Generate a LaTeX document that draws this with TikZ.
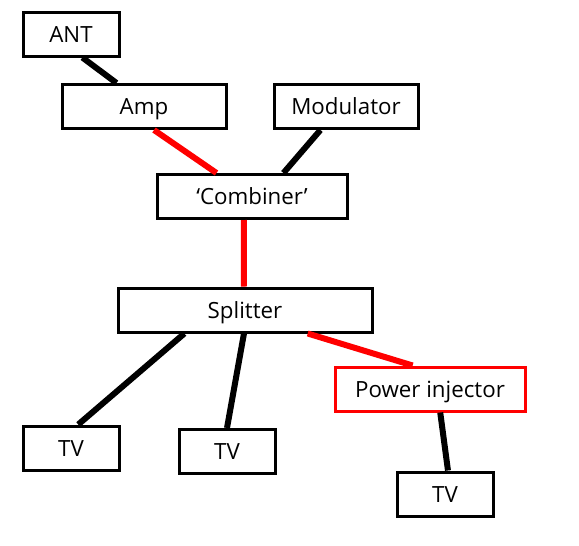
\documentclass[tikz,border=0pt]{standalone}
\usepackage{fontspec}
\setmainfont{Open Sans}
\usetikzlibrary{calc}
\begin{document}
\begin{tikzpicture}[x=1pt,y=-1pt,
  box/.style={draw=black,line width=3pt,fill=white,inner sep=0pt,text height=20pt,text depth=4pt,font=\fontsize{22.3}{26}\selectfont},
  redbox/.style={box,draw=red},
  wire/.style={line width=6pt,black},
  redwire/.style={line width=6pt,red}]
\useasboundingbox (0,0) rectangle (579,546);
% nodes
\node[box,minimum width=96pt,minimum height=44pt] (ant) at (71,34) {ANT};
\node[box,minimum width=164pt,minimum height=44pt] (amp) at (144,106.5) {Amp};
\node[box,minimum width=144pt,minimum height=44pt] (mod) at (346,106.5) {Modulator};
\node[box,minimum width=190pt,minimum height=44pt] (comb) at (252,196.5) {‘Combiner’};
\node[box,minimum width=254pt,minimum height=44pt] (split) at (245,310) {Splitter};
\node[redbox,minimum width=190pt,minimum height=44pt] (pinj) at (430,389) {Power injector};
\node[box,minimum width=96pt,minimum height=44pt] (tva) at (71,448) {TV};
\node[box,minimum width=96pt,minimum height=44pt] (tvb) at (227,451.5) {TV};
\node[box,minimum width=96pt,minimum height=44pt] (tvc) at (445,494) {TV};
% connectors
\draw[wire] ($(ant.south west)!0.615!(ant.south east)$) -- ($(amp.north west)!0.335!(amp.north east)$);
\draw[redwire] ($(amp.south west)!0.56!(amp.south east)$) -- ($(comb.north west)!0.316!(comb.north east)$);
\draw[wire] ($(mod.south west)!0.326!(mod.south east)$) -- ($(comb.north west)!0.663!(comb.north east)$);
\draw[redwire] ($(comb.south west)!0.458!(comb.south east)$) -- ($(split.north west)!0.496!(split.north east)$);
\draw[wire] ($(split.south west)!0.264!(split.south east)$) -- ($(tva.north west)!0.573!(tva.north east)$);
\draw[wire] ($(split.south west)!0.496!(split.south east)$) -- ($(tvb.north west)!0.5!(tvb.north east)$);
\draw[redwire] ($(split.south west)!0.744!(split.south east)$) -- ($(pinj.north west)!0.41!(pinj.north east)$);
\draw[wire] ($(pinj.south west)!0.553!(pinj.south east)$) -- ($(tvc.north west)!0.53!(tvc.north east)$);
\end{tikzpicture}
\end{document}
